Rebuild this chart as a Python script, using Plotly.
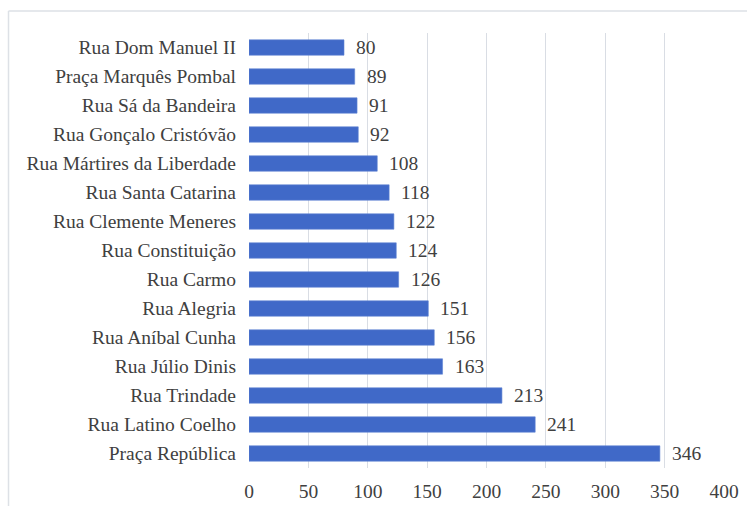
import plotly.graph_objects as go

categories = ["Rua Dom Manuel II", "Praça Marquês Pombal", "Rua Sá da Bandeira",
              "Rua Gonçalo Cristóvão", "Rua Mártires da Liberdade", "Rua Santa Catarina",
              "Rua Clemente Meneres", "Rua Constituição", "Rua Carmo", "Rua Alegria",
              "Rua Aníbal Cunha", "Rua Júlio Dinis", "Rua Trindade", "Rua Latino Coelho",
              "Praça República"]
values = [80, 89, 91, 92, 108, 118, 122, 124, 126, 151, 156, 163, 213, 241, 346]
x_ticks = [0, 50, 100, 150, 200, 250, 300, 350, 400]

FONT = '"Liberation Serif", "Times New Roman", serif'
TXT = "#404040"
FS = 19.5

fig = go.Figure()
fig.add_trace(go.Bar(
    y=categories, x=values, orientation="h",
    marker=dict(color="#4069c8", line=dict(color="#5f84d4", width=0.6)),
    width=0.53, hoverinfo="x+y",
))

for c, v in zip(categories, values):
    fig.add_annotation(x=v, y=c, text=str(v), showarrow=False, xanchor="left",
                       xshift=10, font=dict(family=FONT, size=FS, color=TXT))

fig.add_shape(type="line", xref="paper", yref="paper", x0=-0.5063, x1=-0.5063,
              y0=-0.3, y1=1.0506, line=dict(color="#dde1e6", width=1.5))
fig.add_shape(type="line", xref="paper", yref="paper", x0=-0.5063, x1=1.2,
              y0=1.0506, y1=1.0506, line=dict(color="#dde1e6", width=1.5))

fig.update_layout(
    width=747, height=506,
    margin=dict(l=249, r=23, t=33, b=38, autoexpand=False),
    paper_bgcolor="white", plot_bgcolor="white",
    font=dict(family=FONT, size=FS, color=TXT),
    showlegend=False,
    xaxis=dict(range=[0, 400], tickvals=x_ticks, showgrid=True, gridcolor="#d9dde4",
               gridwidth=1.2, zeroline=False, showline=False, ticks="",
               ticklabelstandoff=9, automargin=False,
               tickfont=dict(family=FONT, size=FS, color=TXT)),
    yaxis=dict(autorange="reversed", showgrid=False, zeroline=False, ticks="",
               ticklabelstandoff=12, automargin=False,
               tickfont=dict(family=FONT, size=FS, color=TXT)),
)

fig.write_html("out.html", config={"displayModeBar": False},
               post_script="document.body.style.margin='0';document.body.style.overflow='hidden';")
